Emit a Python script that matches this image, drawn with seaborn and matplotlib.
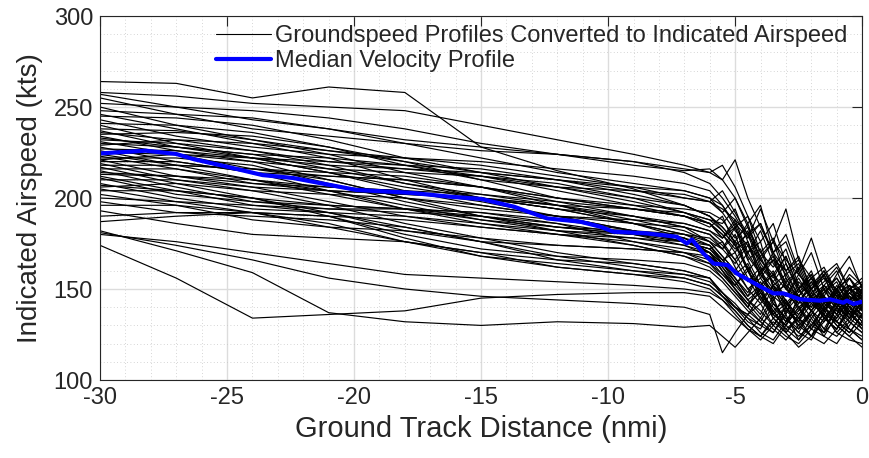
import numpy as np
import pandas as pd
import matplotlib.pyplot as plt
import matplotlib.ticker as mticker
from matplotlib.lines import Line2D
import seaborn as sns

# Shared ground-track distance grid (nmi) for the individual profiles
distance = [-30, -27, -24, -21, -18, -15, -12, -9, -7, -6,
            -5.5, -5, -4.5, -4, -3.5, -3, -2.5, -2, -1.5, -1, -0.5, 0]

# Indicated airspeed (kts) per profile
upper_profiles = [
    [264, 263, 255, 261, 258, 228, 215, 205, 196, 190, 182, 174, 160, 168, 152, 146, 156, 144, 150, 140, 148, 142],
    [258, 256, 252, 250, 248, 240, 232, 224, 218, 214, 210, 200, 186, 196, 170, 160, 166, 150, 158, 146, 152, 148],
    [257, 250, 243, 238, 232, 228, 224, 220, 216, 214, 218, 206, 190, 176, 186, 164, 150, 160, 142, 150, 140, 146],
    [255, 246, 238, 234, 230, 226, 224, 220, 214, 208, 200, 190, 178, 186, 170, 180, 160, 178, 156, 150, 162, 152],
    [252, 250, 248, 244, 238, 230, 224, 218, 215, 216, 210, 221, 200, 184, 170, 176, 158, 150, 160, 148, 152, 140],
    [250, 240, 232, 226, 220, 214, 210, 206, 204, 200, 196, 184, 190, 170, 178, 160, 168, 150, 156, 144, 150, 154],
    [248, 246, 244, 238, 230, 222, 214, 208, 204, 200, 192, 200, 184, 170, 162, 172, 152, 146, 158, 164, 150, 146],
    [246, 238, 230, 226, 222, 220, 216, 212, 208, 204, 196, 186, 178, 194, 176, 166, 158, 170, 150, 144, 156, 148],
    [245, 244, 240, 232, 222, 214, 206, 200, 196, 190, 184, 176, 186, 166, 158, 150, 162, 146, 140, 152, 144, 138],
    [243, 234, 228, 224, 222, 218, 212, 206, 200, 198, 192, 182, 174, 166, 176, 194, 166, 156, 162, 148, 158, 152],
    [241, 240, 236, 228, 218, 210, 206, 204, 202, 198, 194, 188, 180, 186, 168, 158, 164, 148, 154, 162, 150, 146],
    [240, 230, 222, 218, 216, 214, 210, 204, 200, 198, 204, 192, 180, 168, 176, 156, 144, 150, 138, 146, 134, 142],
    [238, 237, 232, 224, 214, 206, 200, 196, 194, 192, 188, 178, 184, 166, 156, 168, 150, 158, 142, 150, 156, 144],
    [237, 228, 222, 220, 218, 216, 210, 202, 196, 190, 184, 176, 170, 182, 164, 154, 160, 144, 138, 150, 140, 136],
    [235, 236, 234, 228, 220, 210, 200, 194, 190, 186, 180, 172, 176, 160, 166, 150, 146, 156, 146, 158, 168, 150],
    [234, 226, 220, 216, 214, 212, 208, 200, 192, 186, 178, 186, 168, 158, 170, 152, 146, 138, 150, 156, 144, 148],
]

middle_profiles = [
    [236, 232, 226, 220, 216, 212, 206, 198, 192, 188, 186, 194, 176, 160, 168, 150, 142, 154, 146, 140, 150, 156],
    [233, 228, 224, 222, 218, 212, 204, 196, 190, 186, 180, 170, 182, 164, 154, 146, 158, 150, 140, 134, 146, 142],
    [232, 230, 226, 218, 208, 200, 196, 194, 192, 188, 182, 174, 180, 162, 154, 164, 148, 156, 142, 136, 148, 152],
    [231, 224, 216, 212, 210, 206, 200, 194, 190, 186, 178, 184, 166, 172, 152, 158, 146, 140, 152, 146, 138, 148],
    [230, 228, 224, 216, 208, 202, 198, 194, 190, 184, 190, 174, 162, 152, 160, 142, 134, 146, 136, 132, 142, 136],
    [229, 232, 230, 222, 210, 200, 194, 190, 186, 182, 178, 188, 170, 158, 148, 156, 144, 138, 148, 156, 146, 140],
    [228, 220, 214, 212, 210, 206, 198, 190, 184, 180, 174, 166, 176, 156, 146, 140, 150, 156, 144, 138, 132, 144],
    [227, 226, 222, 214, 204, 196, 190, 186, 184, 180, 172, 180, 160, 150, 158, 168, 150, 142, 136, 150, 156, 146],
    [226, 218, 210, 206, 204, 202, 196, 188, 182, 176, 168, 160, 170, 176, 150, 142, 136, 146, 138, 148, 136, 130],
    [225, 224, 220, 210, 200, 194, 190, 188, 186, 182, 176, 166, 154, 162, 142, 134, 128, 138, 146, 136, 148, 140],
    [224, 218, 216, 214, 212, 206, 196, 186, 180, 178, 172, 164, 174, 158, 148, 152, 138, 146, 152, 142, 134, 140],
    [223, 216, 208, 204, 202, 200, 194, 186, 180, 176, 172, 184, 166, 152, 158, 140, 150, 158, 144, 136, 150, 144],
    [222, 222, 218, 208, 198, 190, 184, 180, 178, 174, 166, 158, 164, 148, 138, 144, 128, 136, 146, 132, 126, 136],
    [221, 212, 206, 204, 202, 200, 196, 190, 184, 176, 168, 160, 150, 156, 166, 160, 146, 140, 152, 160, 144, 138],
    [221, 224, 222, 214, 206, 200, 194, 186, 178, 170, 164, 156, 148, 160, 150, 138, 132, 142, 150, 138, 144, 150],
    [220, 220, 214, 204, 194, 188, 184, 182, 180, 174, 164, 156, 146, 152, 136, 148, 140, 130, 126, 140, 146, 134],
    [219, 210, 204, 202, 200, 196, 190, 182, 176, 172, 176, 162, 150, 142, 152, 136, 154, 146, 134, 128, 142, 148],
    [218, 218, 216, 210, 200, 190, 184, 180, 176, 174, 166, 156, 146, 160, 144, 132, 138, 150, 158, 140, 134, 150],
    [217, 208, 200, 196, 194, 192, 188, 182, 176, 170, 160, 152, 162, 144, 136, 130, 146, 138, 128, 140, 152, 138],
    [216, 216, 210, 202, 194, 186, 182, 180, 178, 170, 160, 150, 140, 132, 126, 138, 146, 154, 140, 132, 128, 124],
    [215, 206, 198, 194, 192, 190, 186, 180, 174, 168, 162, 154, 144, 150, 134, 128, 122, 134, 142, 150, 136, 130],
    [214, 212, 208, 206, 204, 198, 190, 182, 176, 172, 166, 170, 156, 144, 152, 144, 134, 128, 140, 148, 138, 128],
    [213, 212, 210, 204, 196, 188, 182, 178, 174, 170, 164, 176, 160, 148, 140, 132, 142, 152, 160, 146, 136, 146],
    [212, 204, 196, 194, 194, 192, 186, 176, 170, 164, 156, 148, 140, 150, 138, 128, 134, 124, 138, 150, 140, 132],
    [211, 202, 198, 196, 194, 190, 182, 174, 168, 164, 158, 152, 160, 146, 136, 142, 150, 138, 132, 144, 136, 130],
    [210, 210, 206, 198, 190, 184, 180, 178, 176, 172, 164, 154, 144, 136, 152, 140, 130, 136, 126, 134, 144, 152],
    [208, 200, 194, 192, 190, 186, 180, 174, 168, 162, 156, 148, 140, 154, 142, 134, 126, 138, 148, 154, 140, 134],
    [206, 208, 204, 196, 186, 178, 174, 172, 170, 168, 160, 150, 142, 148, 136, 130, 140, 146, 136, 126, 134, 144],
]

lower_profiles = [
    [207, 204, 200, 192, 182, 176, 174, 172, 170, 166, 158, 150, 142, 134, 146, 126, 136, 144, 134, 128, 140, 132],
    [205, 198, 192, 190, 188, 184, 180, 176, 172, 170, 162, 152, 144, 138, 130, 140, 132, 148, 138, 130, 124, 132],
    [204, 204, 200, 190, 180, 172, 168, 166, 164, 160, 154, 146, 138, 132, 144, 154, 140, 132, 126, 140, 150, 138],
    [202, 196, 188, 184, 182, 178, 170, 164, 160, 156, 148, 140, 134, 130, 126, 136, 122, 130, 140, 130, 124, 118],
    [200, 198, 196, 192, 184, 176, 168, 162, 158, 156, 148, 140, 132, 128, 142, 134, 126, 122, 134, 142, 132, 126],
    [198, 192, 190, 188, 184, 176, 166, 160, 158, 154, 148, 142, 134, 126, 122, 132, 144, 134, 124, 120, 130, 140],
    [196, 196, 192, 184, 176, 170, 166, 164, 160, 156, 146, 138, 130, 124, 120, 130, 140, 128, 124, 136, 128, 122],
    [193, 186, 180, 178, 176, 170, 162, 158, 156, 152, 146, 140, 136, 146, 134, 126, 134, 144, 134, 128, 138, 134],
    [190, 192, 192, 186, 176, 168, 162, 158, 154, 150, 144, 136, 128, 122, 130, 140, 132, 124, 120, 128, 138, 130],
    [187, 190, 192, 190, 178, 168, 164, 160, 156, 152, 146, 140, 136, 130, 138, 130, 124, 130, 140, 132, 126, 136],
    [182, 171, 159, 137, 132, 130, 132, 131, 129, 130, 124, 118, 126, 134, 128, 122, 130, 138, 128, 124, 132, 126],
    [181, 174, 166, 156, 150, 146, 144, 142, 140, 136, 115, 126, 136, 142, 130, 124, 120, 128, 136, 126, 122, 120],
    [180, 176, 170, 164, 158, 156, 154, 152, 150, 148, 144, 138, 130, 124, 132, 126, 118, 124, 132, 140, 128, 122],
    [174, 156, 134, 136, 138, 145, 147, 148, 148, 146, 140, 134, 128, 124, 134, 140, 130, 124, 134, 142, 134, 128],
]

# Median velocity profile
median_distance = [-30, -28.2, -27, -26.3, -25, -23.6, -22.4, -19.9, -17.8, -16.2, -15, -13.7,
                   -12.4, -11.1, -10.3, -9.8, -8.5, -7.3, -6.9, -6.7, -6.25, -5.85, -5.3,
                   -4.94, -4, -3.5, -3.1, -2.44, -1.65, -1.26, -0.74, -0.6, -0.34, 0]
median_ias = [224.5, 226, 224.2, 221.3, 217.2, 212.6, 211, 204.4, 202.9, 200.7, 199.5, 195.2,
              188.8, 187, 184.2, 181.5, 180.6, 178.7, 175, 177.2, 169.6, 164, 163.2,
              158.6, 151.3, 147.6, 147.6, 144.3, 143.6, 144.3, 142.5, 143.6, 141.8, 143]

all_profiles = upper_profiles + middle_profiles + lower_profiles
assert all(len(p) == len(distance) for p in all_profiles)

# long-format table for seaborn
rows = []
for pid, prof in enumerate(all_profiles):
    for d, v in zip(distance, prof):
        rows.append({"profile": pid, "distance": d, "ias": v})
df = pd.DataFrame(rows)
med = pd.DataFrame({"distance": median_distance, "ias": median_ias})

sns.set_theme(style="white")
plt.rcParams["font.family"] = ["Liberation Sans", "DejaVu Sans"]
plt.rcParams["axes.unicode_minus"] = False

fig = plt.figure(figsize=(8.69, 4.58), dpi=100)
ax = fig.add_axes([0.1151, 0.1703, 0.877, 0.7947])

sns.lineplot(data=df, x="distance", y="ias", units="profile", estimator=None,
             color="black", linewidth=0.85, ax=ax, legend=False)
sns.lineplot(data=med, x="distance", y="ias", color="#0000ff", linewidth=3.0,
             ax=ax, legend=False)

ax.set_xlim(-30, 0)
ax.set_ylim(100, 300)
ax.xaxis.set_major_locator(mticker.MultipleLocator(5))
ax.xaxis.set_minor_locator(mticker.MultipleLocator(1))
ax.yaxis.set_major_locator(mticker.MultipleLocator(50))
ax.yaxis.set_minor_locator(mticker.MultipleLocator(10))
ax.grid(which="major", color="#dcdcdc", linewidth=1.0, linestyle="-")
ax.grid(which="minor", color="#c8c8c8", linewidth=0.6, linestyle=(0, (1, 3)))
ax.set_axisbelow(True)
ax.tick_params(which="major", direction="in", length=7, width=0.8, top=True, right=True,
               labelsize=17, colors="#262626", pad=5)
ax.tick_params(which="minor", length=0)
for s in ax.spines.values():
    s.set_color("#262626")
    s.set_linewidth(0.8)

ax.set_xlabel("Ground Track Distance (nmi)", fontsize=21, color="#262626", labelpad=4)
ax.set_ylabel("Indicated Airspeed (kts)", fontsize=20, color="#262626", labelpad=8)

handles = [Line2D([], [], color="black", linewidth=0.8),
           Line2D([], [], color="#0000ff", linewidth=3.0)]
labels = ["Groundspeed Profiles Converted to Indicated Airspeed", "Median Velocity Profile"]
ax.legend(handles, labels, loc="upper right", frameon=False, fontsize=17,
          handlelength=2.3, handletextpad=0.2, labelspacing=0.1,
          borderpad=0.2, borderaxespad=0.2,
          bbox_to_anchor=(1 - 5 / 762, 1.0))

fig.savefig("out.png", dpi=100)
